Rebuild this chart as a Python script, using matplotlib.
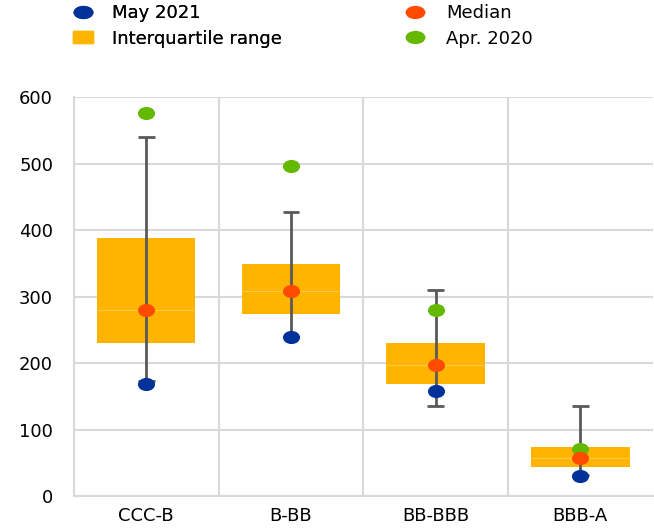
import numpy as np
import matplotlib
matplotlib.use("Agg")
import matplotlib.pyplot as plt
from matplotlib.lines import Line2D
from matplotlib.patches import Patch
from matplotlib.path import Path
from matplotlib.transforms import Affine2D

plt.rcParams['font.family'] = ['DejaVu Sans']

# Data (basis points)
categories = ["CCC-B", "B-BB", "BB-BBB", "BBB-A"]
whisker_high = [540, 427, 310, 135]
whisker_low = [173, 239, 135, 32]
q75 = [389, 349, 230, 74]
q25 = [231, 274, 168, 44]
median = [280, 308, 197, 57]
may_2021 = [168, 239, 158, 30]
apr_2020 = [576, 496, 280, 71]

blue = "#003299"
orange = "#FF4B00"
yellow = "#FFB400"
green = "#65B800"
grey = "#595959"
fs = 13
fs_leg = 13

# slightly wide ellipse markers, as in the original
def ellipse(sx):
    return Path.unit_circle().transformed(Affine2D().scale(sx, 1.0))

dot = ellipse(1.3)
leg_dot = ellipse(1.5)

fig = plt.figure(figsize=(6.54, 5.28), dpi=100)
ax = fig.add_axes([0.113, 0.0606, 0.885, 0.755])

x = np.arange(len(categories))

# Interquartile boxes
ax.bar(x, np.array(q75) - np.array(q25), bottom=q25, width=0.68,
       color=yellow, edgecolor="none", zorder=2)
# faint median line inside box
ax.hlines(median, x - 0.34, x + 0.34, color="#FFC94D", lw=0.8, zorder=2.5)

# Whiskers
ax.vlines(x, whisker_low, whisker_high, color=grey, lw=2, zorder=3)
ax.hlines(whisker_high, x - 0.058, x + 0.058, color=grey, lw=2, zorder=3)
ax.hlines(whisker_low, x - 0.058, x + 0.058, color=grey, lw=2, zorder=3)

ms = 12.3
ax.plot(x, may_2021, ls='none', marker=dot, color=blue, ms=ms, mec="none", zorder=4)
ax.plot(x, apr_2020, ls='none', marker=dot, color=green, ms=ms, mec="none", zorder=4)
ax.plot(x, median, ls='none', marker=dot, color=orange, ms=ms, mec="none", zorder=5)

ax.set_xlim(-0.5, 3.5)
ax.set_ylim(0, 600)
ax.set_yticks(range(0, 601, 100))
ax.set_xticks(x)
ax.set_xticklabels(categories)
ax.set_xticks([0.5, 1.5, 2.5], minor=True)
ax.grid(axis='y', color="#d9d9d9", lw=1.5, zorder=0)
ax.grid(axis='x', which='minor', color="#d9d9d9", lw=1.5, zorder=0)
ax.tick_params(axis='both', which='both', length=0, labelsize=fs, colors="black")
ax.tick_params(axis='x', pad=8)
ax.tick_params(axis='y', pad=15)
for side in ["top", "right"]:
    ax.spines[side].set_visible(False)
for side in ["left", "bottom"]:
    ax.spines[side].set_color("#d9d9d9")
    ax.spines[side].set_linewidth(1.5)

# Legend: two columns placed separately
h_may = Line2D([], [], marker=leg_dot, ls='none', color=blue, ms=14.3, mec="none")
h_med = Line2D([], [], marker=leg_dot, ls='none', color=orange, ms=14.3, mec="none")
h_iqr = Patch(color=yellow)
h_apr = Line2D([], [], marker=leg_dot, ls='none', color=green, ms=14.3, mec="none")

W, H = 654, 528
common = dict(loc="upper left", frameon=False, fontsize=fs_leg, handlelength=1.1,
              handleheight=0.67, labelspacing=0.39, borderaxespad=0, borderpad=0)
leg1 = fig.legend([h_may, h_iqr], ["May 2021", "Interquartile range"],
                  bbox_to_anchor=(73 / W, 1 - 4.5 / H), handletextpad=1.06, **common)
fig.add_artist(leg1)
fig.legend([h_med, h_apr], ["Median", "Apr. 2020"],
           bbox_to_anchor=(405 / W, 1 - 4.5 / H), handletextpad=1.17, **common)

fig.savefig("out.png", dpi=100)
